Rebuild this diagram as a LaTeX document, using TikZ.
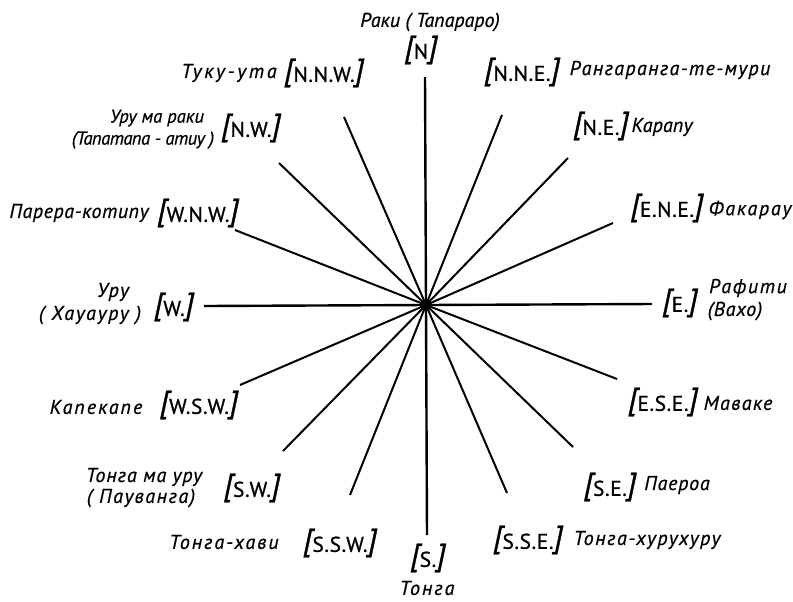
\documentclass[tikz,border=0pt]{standalone}
\usepackage{fontspec}
\setmainfont{PT Sans}
\newcommand\brk[1]{\raisebox{1.2pt}{\fontsize{23}{23}\selectfont\itshape\addfontfeatures{FakeBold=1.2}#1}}
\newcommand\cdtxt[1]{\brk{[}\kern0.3pt{\fontsize{16}{17}\selectfont\addfontfeatures{LetterSpace=3,FakeBold=1}#1}\kern0.3pt\brk{]}}
\begin{document}
\begin{tikzpicture}[x=0.75pt,y=-0.75pt,
  nm/.style={inner sep=0pt,font=\fontsize{15}{16}\selectfont\itshape\addfontfeatures{LetterSpace=#1,FakeBold=0.6}},
  nm/.default=8,
  sm/.style={inner sep=0pt,font=\fontsize{14}{15}\selectfont\itshape\addfontfeatures{LetterSpace=#1,FakeBold=0.6}},
  sm/.default=0,
  cd/.style={inner sep=0pt},
  spoke/.style={line width=1.5pt},
  mainspoke/.style={line width=1.8pt}]
\useasboundingbox (0,0) rectangle (793,601);
\node[inner sep=0pt,minimum size=1pt] (c) at (426,305) {};
% endpoints
\coordinate (eN) at (425,77);
\coordinate (eS) at (427,535);
\coordinate (eE) at (652,304);
\coordinate (eW) at (204,306);
\coordinate (eNNE) at (502,115);
\coordinate (eNE) at (568,158);
\coordinate (eENE) at (613,223);
\coordinate (eESE) at (617,379);
\coordinate (eSE) at (573,447);
\coordinate (eSSE) at (507,493);
\coordinate (eSSW) at (350,495);
\coordinate (eSW) at (283,451);
\coordinate (eWSW) at (240,385);
\coordinate (eWNW) at (235,230);
\coordinate (eNW) at (279,163);
\coordinate (eNNW) at (344,117);
\foreach \p in {N,S,E,W} \draw[mainspoke] (c.center) -- (e\p);
\foreach \p in {NNE,NE,ENE,ESE,SE,SSE,SSW,SW,WSW,WNW,NW,NNW} \draw[spoke] (c.center) -- (e\p);
\fill (c.center) circle (2.5);
% labels
\node[nm=0] (nN) at (430,22) {Раки ( Тапараро)};
\node[cd] (cN) at (421,50) {\cdtxt{N}};
\node[nm=14] (nNNW) at (229,73) {Туку-ута};
\node[cd] (cNNW) at (324,73) {\cdtxt{N.N.W.}};
\node[cd] (cNNE) at (522,72) {\cdtxt{N.N.E.}};
\node[nm=7] (nNNE) at (670,70) {Рангаранга-те-мури};
\node[sm] (nNWa) at (157,118) {Уру ма раки};
\node[sm=-3] (nNWb) at (143,140) {(Тапатапа - атиу )};
\node[cd] (cNW) at (251,128) {\cdtxt{N.W.}};
\node[cd] (cNE) at (601,126) {\cdtxt{N.E.}};
\node[nm=1] (nNE) at (662,127) {Карапу};
\node[nm=3] (nWNW) at (79,213) {Парера-котипу};
\node[cd] (cWNW) at (198,213) {\cdtxt{W.N.W.}};
\node[cd] (cENE) at (667,208) {\cdtxt{E.N.E.}};
\node[nm=9] (nENE) at (750,210) {Факарау};
\node[nm] (nWa) at (113,292) {Уру};
\node[nm=9] (nWb) at (90,315) {( Хауауру )};
\node[cd] (cW) at (174,307) {\cdtxt{W.}};
\node[cd] (cE) at (680,303) {\cdtxt{E.}};
\node[nm] (nEa) at (748,288) {Рафити};
\node[nm=4] (nEb) at (735,311) {(Вахо)};
\node[nm=10] (nWSW) at (96,407) {Капекапе};
\node[cd] (cWSW) at (199,405) {\cdtxt{W.S.W.}};
\node[cd] (cESE) at (663,402) {\cdtxt{E.S.E.}};
\node[nm=7] (nESE) at (738,403) {Маваке};
\node[nm=5] (nSWa) at (144,477) {Тонга ма уру};
\node[nm] (nSWb) at (141,498) {( Пауванга)};
\node[cd] (cSW) at (252,488) {\cdtxt{S.W.}};
\node[nm=10] (nSSW) at (224,542) {Тонга-хави};
\node[cd] (cSSW) at (340,543) {\cdtxt{S.S.W.}};
\node[cd] (cS) at (428,558) {\cdtxt{S.}};
\node[nm=10] (nS) at (427,588) {Тонга};
\node[cd] (cSE) at (610,487) {\cdtxt{S.E.}};
\node[nm=4] (nSE) at (677,485) {Паероа};
\node[cd] (cSSE) at (528,540) {\cdtxt{S.S.E.}};
\node[nm] (nSSE) at (647,540) {Тонга-хурухуру};
\end{tikzpicture}
\end{document}
